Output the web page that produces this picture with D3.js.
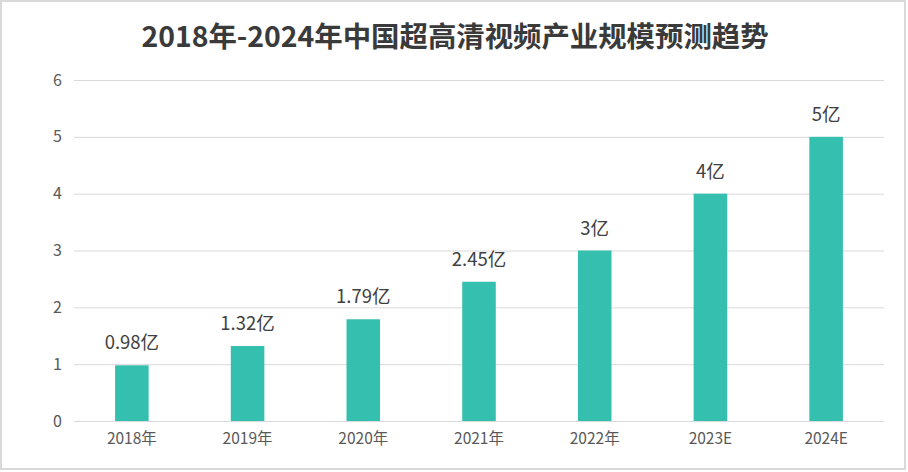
<!DOCTYPE html>
<html lang="zh">
<head>
  <meta charset="UTF-8">
  <title>2018年-2024年中国超高清视频产业规模预测趋势</title>
  <style>
    html, body { margin: 0; padding: 0; background: #fff; overflow: hidden; }
    svg { display: block; }
  </style>
</head>
<body>
  <div id="chart"></div>
  <script src="https://cdn.jsdelivr.net/npm/d3@7"></script>
  <script>
    const categories = ['2018年', '2019年', '2020年', '2021年', '2022年', '2023E', '2024E']
    const values = [0.98, 1.32, 1.79, 2.45, 3, 4, 5]
    const valueLabels = ['0.98亿', '1.32亿', '1.79亿', '2.45亿', '3亿', '4亿', '5亿']
    const yTicks = [0, 1, 2, 3, 4, 5, 6]

    const width = 908
    const height = 472
    const margin = { top: 80, right: 24, bottom: 51, left: 74 }
    const font = '"Noto Sans CJK SC", "Open Sans", sans-serif'

    const svg = d3.select('#chart').append('svg')
      .attr('width', width)
      .attr('height', height)

    // outer frame
    svg.append('rect')
      .attr('x', 1).attr('y', 1)
      .attr('width', width - 4).attr('height', height - 4)
      .attr('fill', '#fff')
      .attr('stroke', '#d9d9d9')
      .attr('stroke-width', 2)

    svg.append('text')
      .attr('x', width / 2 + 1)
      .attr('y', 47)
      .attr('text-anchor', 'middle')
      .attr('font-family', font)
      .attr('font-weight', 'bold')
      .attr('font-size', 28.4)
      .attr('fill', '#3a3a3a')
      .text('2018年-2024年中国超高清视频产业规模预测趋势')

    const x = d3.scaleBand()
      .domain(categories)
      .range([margin.left, width - margin.right])
      .paddingInner(0.71)
      .paddingOuter(0.355)

    const y = d3.scaleLinear()
      .domain([0, 6])
      .range([height - margin.bottom, margin.top])

    // gridlines
    const yAxis = d3.axisLeft(y)
      .tickValues(yTicks)
      .tickSize(-(width - margin.left - margin.right))
      .tickPadding(12)
      .tickFormat(d3.format('d'))

    const gy = svg.append('g')
      .attr('transform', `translate(${margin.left},0)`)
      .call(yAxis)
    gy.select('.domain').remove()
    gy.selectAll('.tick line').attr('stroke', '#d9d9d9').attr('stroke-width', 1)
    gy.selectAll('.tick text')
      .attr('font-family', font)
      .attr('font-size', 16)
      .attr('fill', '#595959')

    const xAxis = d3.axisBottom(x).tickSize(0).tickPadding(12)
    const gx = svg.append('g')
      .attr('transform', `translate(0,${height - margin.bottom})`)
      .call(xAxis)
    gx.select('.domain').remove()
    gx.selectAll('.tick text')
      .attr('font-family', font)
      .attr('font-size', 15.5)
      .attr('fill', '#595959')

    svg.append('g')
      .selectAll('rect')
      .data(values)
      .join('rect')
      .attr('x', (d, i) => x(categories[i]))
      .attr('y', d => y(d))
      .attr('width', x.bandwidth())
      .attr('height', d => y(0) - y(d))
      .attr('fill', '#35bfae')

    svg.append('g')
      .selectAll('text')
      .data(values)
      .join('text')
      .attr('x', (d, i) => x(categories[i]) + x.bandwidth() / 2)
      .attr('y', d => y(d) - 16)
      .attr('text-anchor', 'middle')
      .attr('font-family', font)
      .attr('font-size', 18.5)
      .attr('fill', '#404040')
      .text((d, i) => valueLabels[i])
  </script>
</body>
</html>
